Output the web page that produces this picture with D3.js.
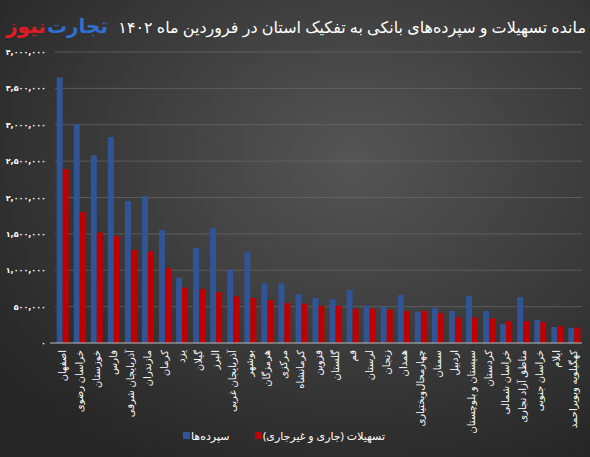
<!DOCTYPE html>
<html><head><meta charset="utf-8">
<script src="https://cdn.jsdelivr.net/npm/d3@7"></script>
<style>body{margin:0;background:#2e2e2e}svg{display:block}</style>
</head><body><div id="chart"></div>
<script>
const provinces = ["اصفهان","خراسان رضوی","خوزستان","فارس","آذربایجان شرقی","مازندران","کرمان","یزد","گیلان","البرز","آذربایجان غربی","بوشهر","هرمزگان","مرکزی","کرمانشاه","قزوین","گلستان","قم","لرستان","زنجان","همدان","چهارمحال‌وبختیاری","سمنان","اردبیل","سیستان و بلوچستان","کردستان","خراسان شمالی","مناطق آزاد تجاری","خراسان جنوبی","ایلام","کهگیلویه وبویراحمد"];
const deposits = [3650000,3010000,2580000,2830000,1950000,2020000,1550000,900000,1310000,1580000,1010000,1250000,820000,820000,670000,620000,600000,730000,510000,500000,660000,430000,480000,440000,650000,440000,260000,630000,320000,220000,210000];
const loans = [2390000,1800000,1520000,1470000,1280000,1260000,1030000,760000,740000,700000,640000,620000,590000,550000,540000,510000,510000,470000,470000,460000,440000,440000,410000,350000,350000,340000,300000,300000,290000,230000,210000];
const yTicks = [0,500000,1000000,1500000,2000000,2500000,3000000,3500000,4000000];
const seriesNames = ["سپرده‌ها","تسهیلات (جاری و غیرجاری)"];
const colors = ["#2f5597","#c00000"];

const W = 590, H = 457;
const fa = s => s.replace(/\d/g, d => "۰۱۲۳۴۵۶۷۸۹"[d]);
const svg = d3.select("#chart").append("svg").attr("width", W).attr("height", H);

const defs = svg.append("defs");
const grad = defs.append("radialGradient").attr("id","bg").attr("cx","60%").attr("cy","35%").attr("r","75%");
grad.append("stop").attr("offset","0%").attr("stop-color","#555");
grad.append("stop").attr("offset","100%").attr("stop-color","#262626");
svg.append("rect").attr("width",W).attr("height",H).attr("fill","url(#bg)");

const x = d3.scaleBand().domain(provinces).range([55,582]).paddingInner(0.3).paddingOuter(0.1);
const xs = d3.scaleBand().domain([0,1]).range([0,x.bandwidth()]);
const y = d3.scaleLinear().domain([0,4000000]).range([343,52]);

// grid
svg.append("g").selectAll("line").data(yTicks.slice(1)).join("line")
  .attr("x1",55).attr("x2",582).attr("y1",d=>y(d)).attr("y2",d=>y(d))
  .attr("stroke","#6a6a6a").attr("stroke-width",0.7);

// y labels
svg.append("g").selectAll("text").data(yTicks).join("text")
  .attr("x",46).attr("y",d=>y(d)+3).attr("text-anchor","end")
  .attr("fill","#fff").attr("font-size",8).attr("font-weight","bold")
  .attr("font-family","DejaVu Sans")
  .text(d=>fa(d3.format(",")(d)));

// bars
const g = svg.append("g").selectAll("g").data(provinces).join("g")
  .attr("transform",d=>`translate(${x(d)},0)`);
[deposits,loans].forEach((arr,k)=>{
  g.append("rect").attr("x",xs(k)).attr("width",xs.bandwidth())
    .attr("y",(d,i)=>y(arr[i])).attr("height",(d,i)=>y(0)-y(arr[i]))
    .attr("fill",colors[k]);
});

svg.append("line").attr("x1",50).attr("x2",582).attr("y1",y(0)).attr("y2",y(0))
  .attr("stroke","#bbb").attr("stroke-width",1);

// x labels
svg.append("g").selectAll("text").data(provinces).join("text")
  .attr("transform",d=>`translate(${x(d)+x.bandwidth()/2+3},350) rotate(-90)`)
  .attr("text-anchor","end").attr("fill","#fff").attr("font-size",10)
  .attr("font-family","Noto Sans, DejaVu Sans")
  .text(d=>d);

// legend
const leg = [{i:0,x:183,tx:191},{i:1,x:255,tx:263}];
leg.forEach(l=>{
  svg.append("rect").attr("x",l.x).attr("y",432).attr("width",7).attr("height",7).attr("fill",colors[l.i]);
  svg.append("text").attr("x",l.tx).attr("y",440).attr("text-anchor","start")
    .attr("fill","#fff").attr("font-size",11).attr("font-family","Noto Sans, DejaVu Sans")
    .text(seriesNames[l.i]);
});

// title
svg.append("text").attr("x",586).attr("y",33).attr("text-anchor","end")
  .attr("fill","#fff").attr("font-size",16).attr("font-family","Noto Sans, DejaVu Sans")
  .text("مانده تسهیلات و سپرده‌های بانکی به تفکیک استان در فروردین ماه " + fa("1402"));
svg.append("text").attr("x",6).attr("y",33).attr("text-anchor","start")
  .attr("font-size",20).attr("font-weight","bold").attr("font-family","Noto Sans, DejaVu Sans")
  .attr("fill","#e01b24").text("نیوز");
svg.append("text").attr("x",47).attr("y",33).attr("text-anchor","start")
  .attr("font-size",20).attr("font-weight","bold").attr("font-family","Noto Sans, DejaVu Sans")
  .attr("fill","#2f6fd0").text("تجارت");
</script></body></html>
